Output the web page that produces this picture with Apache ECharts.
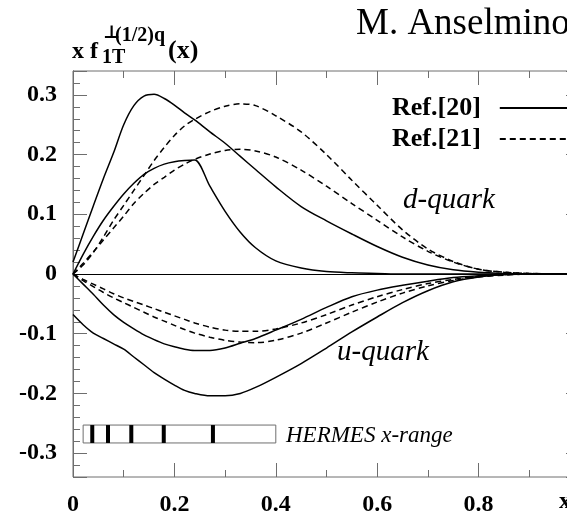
<!DOCTYPE html>
<html>
<head>
<meta charset="utf-8">
<title>Sivers moments</title>
<script type="text/javascript" src="https://cdn.jsdelivr.net/npm/echarts@6/dist/echarts.min.js"></script>
</head>
<body style="margin:0">
<div id="container" style="width:567px;height:515px;"></div>
<script type="text/javascript">
// x grid shared by all curves
var xs = [0, 0.02, 0.04, 0.06, 0.08, 0.1, 0.12, 0.14, 0.16, 0.18, 0.2, 0.22, 0.24, 0.27, 0.3,
          0.33, 0.36, 0.4, 0.45, 0.5, 0.55, 0.6, 0.65, 0.7, 0.75, 0.8, 0.85, 0.9, 0.95, 1.0];

// Ref.[20] (solid)
var dSolidA = [0.02, 0.067, 0.114, 0.16, 0.203, 0.25, 0.282, 0.298, 0.301, 0.294, 0.283, 0.27, 0.258, 0.238, 0.219,
               0.197, 0.175, 0.146, 0.113, 0.089, 0.067, 0.046, 0.028, 0.015, 0.007, 0.003, 0.001, 0, 0, 0];
var dSolidB = [0, 0.033, 0.063, 0.09, 0.113, 0.134, 0.152, 0.167, 0.177, 0.184, 0.188, 0.19, 0.191, 0.147, 0.105,
               0.07, 0.044, 0.022, 0.01, 0.004, 0.002, 0.001, 0, 0, 0, 0, 0, 0, 0, 0];
var uSolidA = [0, -0.017, -0.034, -0.052, -0.068, -0.081, -0.092, -0.102, -0.11, -0.117, -0.122, -0.126, -0.128, -0.128, -0.124,
               -0.116, -0.108, -0.094, -0.076, -0.056, -0.038, -0.027, -0.019, -0.012, -0.006, -0.003, -0.001, 0, 0, 0];
var uSolidB = [-0.068, -0.085, -0.099, -0.108, -0.117, -0.126, -0.139, -0.152, -0.165, -0.176, -0.186, -0.195, -0.2, -0.204, -0.204,
               -0.2, -0.19, -0.173, -0.15, -0.124, -0.097, -0.072, -0.048, -0.028, -0.013, -0.005, -0.001, 0, 0, 0];

// Ref.[21] (dashed)
var dDashA = [0, 0.015, 0.036, 0.062, 0.09, 0.115, 0.14, 0.165, 0.19, 0.212, 0.232, 0.248, 0.259, 0.272, 0.281,
              0.285, 0.282, 0.265, 0.238, 0.2, 0.157, 0.115, 0.074, 0.042, 0.021, 0.008, 0.003, 0.001, 0, 0];
var dDashB = [0, 0.018, 0.037, 0.057, 0.077, 0.097, 0.118, 0.135, 0.15, 0.162, 0.174, 0.184, 0.192, 0.201, 0.207,
              0.209, 0.206, 0.196, 0.174, 0.147, 0.118, 0.09, 0.062, 0.038, 0.02, 0.008, 0.003, 0.001, 0, 0];
var uDashA = [0, -0.009, -0.017, -0.025, -0.033, -0.04, -0.046, -0.052, -0.058, -0.064, -0.07, -0.076, -0.082, -0.089, -0.094,
              -0.096, -0.096, -0.092, -0.082, -0.068, -0.052, -0.038, -0.026, -0.016, -0.009, -0.004, -0.001, 0, 0, 0];
var uDashB = [0, -0.011, -0.021, -0.031, -0.04, -0.048, -0.056, -0.064, -0.072, -0.079, -0.086, -0.093, -0.099, -0.106, -0.111,
              -0.114, -0.115, -0.111, -0.099, -0.082, -0.064, -0.047, -0.032, -0.02, -0.011, -0.005, -0.002, 0, 0, 0];

// HERMES x-range box and bin markers
var hermesRange = [0.02, 0.4];
var hermesBand = [-0.283, -0.253];
var hermesBins = [0.038, 0.069, 0.115, 0.179, 0.276];

var xTickLabels = ['0', '0.2', '0.4', '0.6', '0.8'];
var yTickLabels = ['-0.3', '-0.2', '-0.1', '0', '0.1', '0.2', '0.3'];
var xMajorTicks = [0.2, 0.4, 0.6, 0.8];
var xMinorTicks = [0.1, 0.3, 0.5, 0.7, 0.9];
var yRange = [-0.34, 0.34];

var serif = 'Liberation Serif';
var frame = '#6e6e6e';
var gridH = 406;

function pairs(ys) {
	return xs.map(function (x, i) { return [x, ys[i]]; });
}

function curve(name, ys, dashed) {
	return {
		name: name,
		type: 'line',
		data: pairs(ys),
		symbol: 'none',
		smooth: 0.3,
		lineStyle: { color: '#000', width: 1.5, type: dashed ? [6, 4] : 'solid' },
		itemStyle: { color: '#000' }
	};
}

function fmtY(v) {
	var s = String(Math.round(v * 100) / 100);
	return yTickLabels.indexOf(s) >= 0 ? s : '';
}
function fmtX(v) {
	var s = String(Math.round(v * 10) / 10);
	return xTickLabels.indexOf(s) >= 0 ? s : '';
}

// x tick segments on the bottom and top frame, given as markLine pairs in data space
function tickSegs() {
	var perPx = (yRange[1] - yRange[0]) / gridH;
	var segs = [];
	function add(v, len) {
		var d = len * perPx;
		segs.push([{ coord: [v, yRange[0]] }, { coord: [v, yRange[0] + d] }]);
		segs.push([{ coord: [v, yRange[1]] }, { coord: [v, yRange[1] - d] }]);
	}
	xMajorTicks.forEach(function (v) { add(v, 14); });
	xMinorTicks.forEach(function (v) { add(v, 7); });
	return segs;
}

var labelStyle = { fontFamily: serif, fontWeight: 'bold', fontSize: 24, color: '#000' };

var dom = document.getElementById('container');
var myChart = echarts.init(dom);

var series = [
	curve('Ref.[20]', dSolidA, false),
	curve('Ref.[20]', dSolidB, false),
	curve('Ref.[20]', uSolidA, false),
	curve('Ref.[20]', uSolidB, false),
	curve('Ref.[21]', dDashA, true),
	curve('Ref.[21]', dDashB, true),
	curve('Ref.[21]', uDashA, true),
	curve('Ref.[21]', uDashB, true),
	{
		// HERMES box
		type: 'custom',
		silent: true,
		data: [[0, 0]],
		renderItem: function (params, api) {
			var p0 = api.coord([hermesRange[0], hermesBand[1]]);
			var p1 = api.coord([hermesRange[1], hermesBand[0]]);
			var kids = [{
				type: 'rect',
				shape: { x: p0[0], y: p0[1], width: p1[0] - p0[0], height: p1[1] - p0[1] },
				style: { fill: '#fff', stroke: frame, lineWidth: 1 }
			}];
			hermesBins.forEach(function (b) {
				var t = api.coord([b, hermesBand[1]]);
				var u = api.coord([b, hermesBand[0]]);
				kids.push({
					type: 'line',
					shape: { x1: t[0], y1: t[1], x2: u[0], y2: u[1] },
					style: { stroke: '#000', lineWidth: 4 }
				});
			});
			return { type: 'group', children: kids };
		}
	},
	{
		// zero line
		type: 'line',
		data: [],
		markLine: {
			silent: true,
			symbol: ['none', 'none'],
			label: { show: false },
			lineStyle: { color: '#000', width: 1, type: 'solid' },
			data: [{ yAxis: 0 }]
		}
	},
	{
		// x ticks
		type: 'line',
		data: [],
		markLine: {
			silent: true,
			symbol: ['none', 'none'],
			label: { show: false },
			lineStyle: { color: frame, width: 1, type: 'solid' },
			data: tickSegs()
		}
	}
];

// minor axes carry the dense ticks, major axes the long ones
function yAx(pos, major, labels) {
	var a = {
		type: 'value', position: pos, min: yRange[0], max: yRange[1],
		axisLine: { show: true, onZero: false, lineStyle: { color: frame, width: 1 } },
		axisTick: { show: true, inside: true, length: major ? 14 : 7, lineStyle: { color: frame } },
		axisLabel: { show: false },
		splitLine: { show: false }
	};
	if (!major) a.interval = 0.02;
	else a.splitNumber = 7;
	if (labels) {
		a.axisLabel = Object.assign({ show: true, margin: 16, formatter: fmtY }, labelStyle);
	}
	return a;
}

option = {
	animation: false,
	backgroundColor: '#fff',
	grid: { show: true, borderColor: frame, borderWidth: 1, left: 73, top: 71, width: 507, height: gridH, containLabel: false, outerBoundsMode: 'none' },
	xAxis: {
		type: 'value', position: 'bottom', min: 0, max: 1, interval: 0.2,
		axisLine: { show: false, onZero: false },
		axisTick: { show: false },
		axisLabel: Object.assign({ show: true, margin: 16, formatter: fmtX }, labelStyle),
		splitLine: { show: false }
	},
	yAxis: [yAx('left', false, true), yAx('left', true, false), yAx('right', false, false), yAx('right', true, false)],
	legend: {
		data: ['Ref.[20]', 'Ref.[21]'],
		orient: 'vertical',
		align: 'right',
		left: 387,
		top: 89,
		itemWidth: 69,
		itemHeight: 14,
		itemGap: 3,
		selectedMode: false,
		itemStyle: { opacity: 0 },
		textStyle: { fontFamily: serif, fontWeight: 'bold', fontSize: 26, color: '#000', lineHeight: 28, padding: [0, 14, 0, 0] }
	},
	graphic: [
		{ type: 'text', left: 356, top: 6, style: { text: 'M. Anselmino', font: '37px "Liberation Serif"', fill: '#000' } },
		{ type: 'text', left: 72, top: 40, style: { text: 'x f', font: 'bold 24px "Liberation Serif"', fill: '#000' } },
		{ type: 'text', left: 103, top: 24, style: { text: '\u22A5', font: 'bold 18px "DejaVu Serif"', fill: '#000' } },
		{ type: 'text', left: 115, top: 26, style: { text: '(1/2)q', font: 'bold 20px "Liberation Serif"', fill: '#000' } },
		{ type: 'text', left: 102, top: 48, style: { text: '1T', font: 'bold 20px "Liberation Serif"', fill: '#000' } },
		{ type: 'text', left: 168, top: 38, style: { text: '(x)', font: 'bold 26px "Liberation Serif"', fill: '#000' } },
		{ type: 'text', left: 403, top: 186, style: { text: 'd-quark', font: 'italic 29px "Liberation Serif"', fill: '#000' } },
		{ type: 'text', left: 337, top: 338, style: { text: 'u-quark', font: 'italic 29px "Liberation Serif"', fill: '#000' } },
		{ type: 'text', left: 286, top: 424, style: { text: 'HERMES x-range', font: 'italic 23px "Liberation Serif"', fill: '#000' } },
		{ type: 'text', left: 559, top: 490, style: { text: 'x', font: 'bold 24px "Liberation Serif"', fill: '#000' } }
	],
	series: series
};

myChart.setOption(option, true);
</script>
</body>
</html>
